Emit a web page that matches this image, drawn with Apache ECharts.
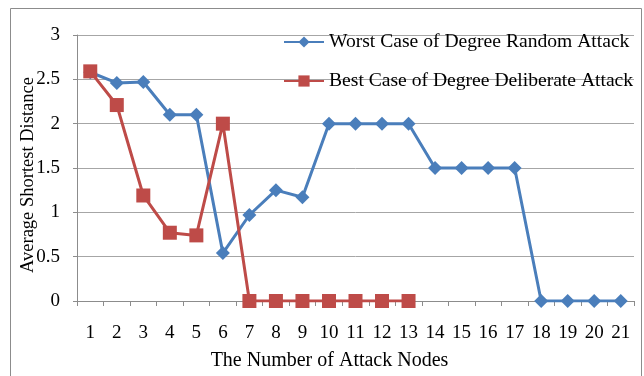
<!DOCTYPE html>
<html><head><meta charset="utf-8">
<script src="https://cdn.jsdelivr.net/npm/echarts@6/dist/echarts.min.js"></script>
<style>html,body{margin:0;padding:0;background:#fff}#c{width:644px;height:376px}</style>
</head><body><div id="c"></div>
<script>
const categories = ['1','2','3','4','5','6','7','8','9','10','11','12','13','14','15','16','17','18','19','20','21'];
const worstRandom = [2.58,2.46,2.47,2.10,2.10,0.54,0.97,1.25,1.17,2.0,2.0,2.0,2.0,1.5,1.5,1.5,1.5,0,0,0,0];
const bestDeliberate = [2.59,2.21,1.19,0.77,0.74,2.0,0,0,0,0,0,0,0];
const seriesNames = ['Worst Case of Degree Random Attack','Best Case of Degree Deliberate Attack'];
const yTitle = 'Average Shortest Distance';
const font = 'Liberation Serif';
const fs = 19;
const chart = echarts.init(document.getElementById('c'));
chart.setOption({
  animation:false,
  textStyle:{fontFamily:font},
  graphic:[
    {type:'rect',shape:{x:10.5,y:8.5,width:631,height:380},style:{fill:'none',stroke:'#8c8c8c',lineWidth:1},silent:true},
    {type:'text',x:28,y:175,rotation:Math.PI/2,silent:true,
     style:{text:yTitle,fill:'#000',font:'18.5px "Liberation Serif"',textAlign:'center',textVerticalAlign:'middle'}}
  ],
  grid:{left:77,right:10,top:35,bottom:74},
  legend:{
    orient:'vertical', left:283, top:32, padding:0, itemGap:19, itemWidth:40, itemHeight:14,
    textStyle:{fontFamily:font,fontSize:19.6,color:'#000'},
    data:[{name:seriesNames[0]},{name:seriesNames[1]}]
  },
  xAxis:{
    type:'category', data:categories, boundaryGap:true,
    name:'The Number of Attack Nodes', nameLocation:'middle', nameGap:50,
    nameTextStyle:{fontFamily:font,fontSize:20,color:'#000',padding:[0,52,0,0]},
    axisLine:{lineStyle:{color:'#8c8c8c',width:1}},
    axisTick:{show:true,alignWithLabel:false,length:5,lineStyle:{color:'#8c8c8c'}},
    axisLabel:{fontFamily:font,fontSize:fs,color:'#000',margin:23,interval:0}
  },
  yAxis:{
    type:'value', min:0, max:3, interval:0.5,
    axisLine:{show:true,lineStyle:{color:'#8c8c8c',width:1}},
    axisTick:{show:true,length:4,lineStyle:{color:'#8c8c8c'}},
    axisLabel:{fontFamily:font,fontSize:fs,color:'#000',margin:17},
    splitLine:{lineStyle:{color:'#a6a6a6',width:1}}
  },
  series:[
    {name:seriesNames[0],type:'line',data:worstRandom,symbol:'diamond',symbolSize:14,
     lineStyle:{color:'#4a7ebb',width:3},itemStyle:{color:'#4a7ebb'},z:2},
    {name:seriesNames[1],type:'line',data:bestDeliberate,symbol:'rect',symbolSize:14,
     lineStyle:{color:'#be4b48',width:3},itemStyle:{color:'#be4b48'},z:3}
  ]
});
</script></body></html>
